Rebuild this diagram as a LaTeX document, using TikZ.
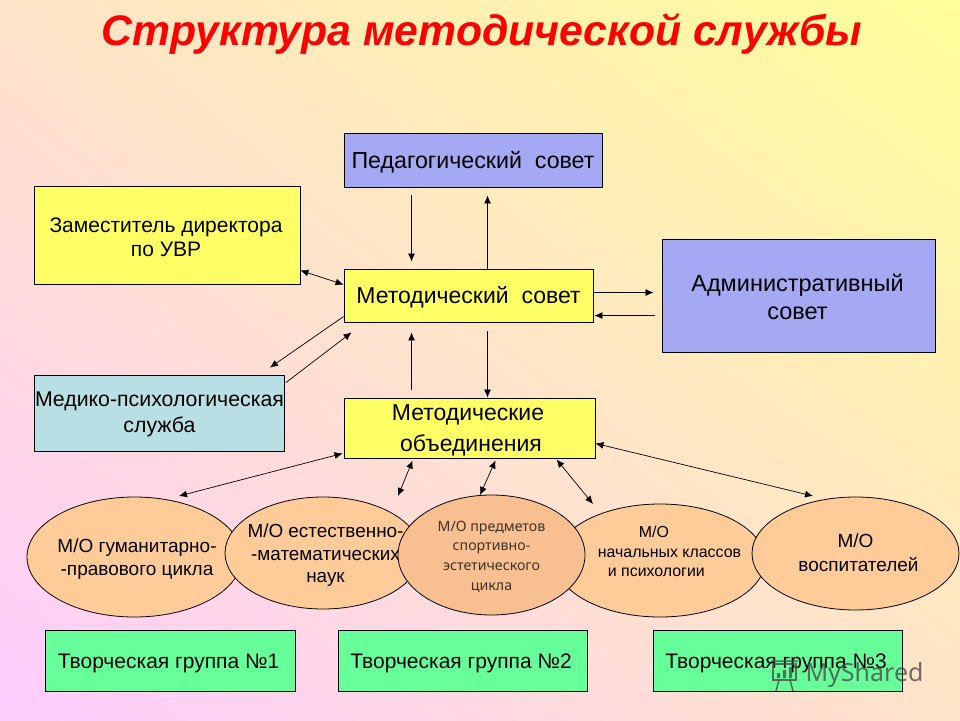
\documentclass[tikz,border=0pt]{standalone}
\usepackage{fontspec}
\setmainfont{Liberation Sans}
\newfontfamily\ovalfont{Noto Sans}
\usetikzlibrary{shapes.geometric,arrows.meta,calc,shadings}
\definecolor{cYellow}{HTML}{FFFF66}
\definecolor{cBlue}{HTML}{A5A8F2}
\definecolor{cAqua}{HTML}{B8DFE3}
\definecolor{cGreen}{HTML}{66FF99}
\definecolor{cOval}{HTML}{FFCC99}
\definecolor{cOvalDark}{HTML}{F8C090}
\definecolor{cOvalText}{HTML}{3F3229}
\definecolor{cBgYellow}{HTML}{FFFF99}
\definecolor{cBgPink}{HTML}{FFCCFF}
\definecolor{cBgMid}{HTML}{FFE3C8}
\newcommand{\fs}[1]{\fontsize{#1}{#1}\selectfont}
\tikzset{
  x=1pt,y=-1pt,
  box/.style={draw=black,line width=0.9pt,inner sep=0pt,align=center,text=black},
  oval/.style={ellipse,draw=black,line width=0.8pt,fill=cOval,inner sep=0pt},
  txt/.style={inner sep=0pt,align=center,text=black},
  onearr/.style={line width=0.7pt,-{Latex[length=8pt,width=7pt]}},
  twoarr/.style={line width=0.7pt,{Latex[length=8pt,width=7pt]}-{Latex[length=8pt,width=7pt]}},
}
\begin{document}
\begin{tikzpicture}
\useasboundingbox (0,0) rectangle (960,720);
\shade[lower left=cBgPink,upper right=cBgYellow,upper left=cBgMid,lower right=cBgMid] (0,0) rectangle (960,720);
\node (title) at (482,34) [text=red,font=\fs{42.7}\bfseries\itshape] {Структура методической службы};
% boxes
\node (ped) at (473,160) [box,fill=cBlue,minimum width=258pt,minimum height=54pt,label={[txt,font=\fs{23.2},yshift=-2pt]center:{Педагогический\ \ совет}}] {};
\node (met) at (468.5,295.5) [box,fill=cYellow,minimum width=249pt,minimum height=53pt,label={[txt,font=\fs{23},yshift=-2pt]center:{Методический\ \ совет}}] {};
\node (zam) at (167,235) [box,fill=cYellow,minimum width=266pt,minimum height=98pt,label={[txt,font=\fs{21},xshift=-1pt,yshift=-2pt]center:{Заместитель директора\\[3pt]по УВР}}] {};
\node (adm) at (798.5,295.5) [box,fill=cBlue,minimum width=273pt,minimum height=113pt,label={[txt,font=\fs{23.5},xshift=-1pt,yshift=-1.5pt]center:{Административный\\[4.5pt]совет}}] {};
\node (med) at (159.5,413) [box,fill=cAqua,minimum width=250pt,minimum height=76pt,label={[txt,font=\fs{21.3},yshift=-1.5pt]center:{Медико-психологическая\\[4.5pt]служба}}] {};
\node (mo) at (469.5,428) [box,fill=cYellow,minimum width=251pt,minimum height=60pt,label={[txt,font=\fs{23},yshift=-2.5pt]center:{\hspace*{-3pt}Методические\\[8pt]\hspace*{3pt}объединения}}] {};
% ovals
\node (o1) at (134.5,557) [oval,minimum width=215pt,minimum height=120pt,label={[txt,font=\fs{19},xshift=2.5pt,yshift=-2.5pt]center:{М/О гуманитарно-\\[4pt]-правового цикла}}] {};
\node (o2) at (323,553) [oval,minimum width=196pt,minimum height=112pt,label={[txt,font=\fs{18.9},xshift=2.5pt,yshift=-2.5pt]center:{М/О естественно-\\[3.5pt]-математических\\[3.5pt]наук}}] {};
\node (o4) at (660,560.5) [oval,minimum width=210pt,minimum height=113pt,label={[txt,align=left,font=\fs{15.9},xshift=9.5pt,yshift=9pt]center:{\hspace*{41pt}М/О\\[3.5pt]начальных классов\\[3.5pt]\hspace*{10pt}и психологии}}] {};
\node (o5) at (855.5,553.5) [oval,minimum width=207pt,minimum height=113pt,label={[txt,font=\fs{19},yshift=0.5pt]center:{М/О\\[5pt]\hspace*{6pt}воспитателей}}] {};
\node (o3) at (491.5,555) [oval,fill=cOvalDark,minimum width=187pt,minimum height=120pt,label={[txt,text=cOvalText,font=\ovalfont\fs{14.2},yshift=-1.5pt]center:{М/О предметов\\[5.4pt]спортивно-\\[5.4pt]эстетического\\[5.4pt]цикла}}] {};
% green
\node (g1) at (170,660.5) [box,fill=cGreen,minimum width=250pt,minimum height=61pt,label={[txt,font=\fs{21},xshift=-1.5pt,yshift=-3pt]center:{Творческая группа №1}}] {};
\node (g2) at (462.5,660.5) [box,fill=cGreen,minimum width=249pt,minimum height=61pt,label={[txt,font=\fs{21},xshift=-1.5pt,yshift=-3pt]center:{Творческая группа №2}}] {};
\node (g3) at (777.5,660.5) [box,fill=cGreen,minimum width=249pt,minimum height=61pt,label={[txt,font=\fs{21},xshift=-1.5pt,yshift=-3pt]center:{Творческая группа №3}}] {};
% free ends
\coordinate (a1) at ($(ped.south west)+(68,8)$);
\coordinate (a2) at ($(met.north west)+(68,-7)$);
\coordinate (b1) at ($(met.north west)+(144,0)$);
\coordinate (b2) at ($(ped.south west)+(144,8)$);
\coordinate (c1) at ($(met.south west)+(68,68)$);
\coordinate (c2) at ($(met.south west)+(68,10)$);
\coordinate (d1) at ($(met.south west)+(144,9)$);
\coordinate (d2) at ($(mo.north west)+(144,0)$);
\coordinate (e1) at ($(met.north east)+(0,24)$);
\coordinate (e2) at ($(adm.north west)+(-8,54)$);
\coordinate (f1) at ($(adm.north west)+(-7,77)$);
\coordinate (f2) at ($(met.north east)+(1,47)$);
\coordinate (h1) at ($(met.north west)+(0,48)$);
\coordinate (h2) at ($(med.north east)+(-15,-7)$);
\coordinate (i1) at ($(med.north east)+(1,8)$);
\coordinate (i2) at ($(met.south west)+(8,10)$);
\coordinate (j1) at ($(zam.south east)+(0,-14)$);
\coordinate (j2) at ($(met.north west)+(0,16)$);
\coordinate (k1) at ($(mo.south west)+(-1,-5)$);
\coordinate (k2) at (179,496);
\coordinate (l1) at ($(mo.south west)+(69,2)$);
\coordinate (l2) at (398,496);
\coordinate (m1) at ($(mo.south west)+(152,2)$);
\coordinate (m2) at (480,495);
\coordinate (n1) at ($(mo.south west)+(213,1)$);
\coordinate (n2) at (593,504);
\coordinate (p1) at ($(mo.south east)+(0,-15)$);
\coordinate (p2) at (813,496);
% connectors
\draw[onearr] (a1) -- (a2);
\draw[onearr] (b1) -- (b2);
\draw[onearr] (c1) -- (c2);
\draw[onearr] (d1) -- (d2);
\draw[onearr] (e1) -- (e2);
\draw[onearr] (f1) -- (f2);
\draw[onearr] (h1) -- (h2);
\draw[onearr] (i1) -- (i2);
\draw[twoarr] (j1) -- (j2);
\draw[twoarr] (k1) -- (k2);
\draw[twoarr] (l1) -- (l2);
\draw[twoarr] (m1) -- (m2);
\draw[twoarr] (n1) -- (n2);
\draw[twoarr] (p1) -- (p2);
% watermark
\node (wm) at (864.5,675) [text=black!70,opacity=0.8,font=\ovalfont\fs{25}] {MyShared};
\draw[black!70,opacity=0.8,line width=1.5pt] (773,664) rectangle (796,680);
\draw[black!70,opacity=0.8,line width=1.5pt] (771,661) -- (798,661) (779,680) -- (776,691) (790,680) -- (793,691);
\fill[black!70,opacity=0.8] (777,673) rectangle (780,678) (783,670) rectangle (786,678) (789,667) rectangle (792,678);
\end{tikzpicture}
\end{document}
